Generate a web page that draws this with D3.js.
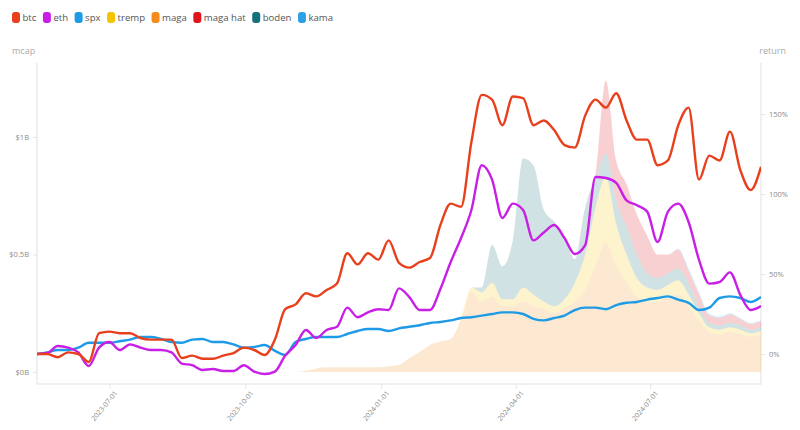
<!DOCTYPE html>
<html>
<head>
<meta charset="utf-8">
<script src="https://cdn.jsdelivr.net/npm/d3@7"></script>
<style>
  body { margin: 0; background: #fff; font-family: "Open Sans", "Noto Sans", sans-serif; }
  svg { display: block; }
</style>
</head>
<body>
<svg width="800" height="430"></svg>
<script>
// weekly samples
const dates = ['2023-05-13','2023-05-20','2023-05-27','2023-06-03','2023-06-10','2023-06-17','2023-06-24',
  '2023-07-01','2023-07-08','2023-07-15','2023-07-22','2023-07-29','2023-08-05','2023-08-12','2023-08-19',
  '2023-08-26','2023-09-02','2023-09-09','2023-09-16','2023-09-23','2023-09-30','2023-10-07','2023-10-14',
  '2023-10-21','2023-10-28','2023-11-04','2023-11-11','2023-11-18','2023-11-25','2023-12-02','2023-12-09',
  '2023-12-16','2023-12-23','2023-12-30','2024-01-06','2024-01-13','2024-01-20','2024-01-27','2024-02-03',
  '2024-02-10','2024-02-17','2024-02-24','2024-03-02','2024-03-09','2024-03-16','2024-03-23','2024-03-30',
  '2024-04-06','2024-04-13','2024-04-20','2024-04-27','2024-05-04','2024-05-11','2024-05-18','2024-05-25',
  '2024-06-01','2024-06-08','2024-06-15','2024-06-22','2024-06-29','2024-07-06','2024-07-13','2024-07-20',
  '2024-07-27','2024-08-03','2024-08-10','2024-08-17','2024-08-24','2024-08-31','2024-09-07','2024-09-14']

// return % (right axis)
const btc = [0,0,-2,1,0,-5,13,14,13,13,10,9,9,9,-2.5,-1,-3,-3,-1,0.6,4,2.5,-0.6,9,28,31,38,36,40,44,
  63,56,63,59,71,57,54,57.5,60,80.6,94,92,132.5,162,159,143,161,160,143,146,140,130.6,129,149,159,154,
  163,146,134,134,118,121,143,154,109,124,121,139,115,102.5,117]
const eth = [0,0.6,5,4,1,-7.5,4,7.5,2.5,6,4,2.5,2.5,1,-6,-7,-10,-9.4,-10.6,-10.6,-7,-11,-12.5,-11,-1,5.6,
  15,10,15,17,29,23,26,28,27.5,41,35.6,27.5,27.5,40.6,57.5,72.5,90,118,109,85,94,90,71,76,80.6,72.5,62.5,
  68,110.6,110,107,96,93,89,70,89,94,82.5,59,44,45,51,37,27.5,30]
const spx = [0,1,2.5,2.5,4,7,7,7,8,9,10.6,10.6,9.4,7.5,7,9,9.4,7.5,7.5,6,4,4.4,5.6,2,-0.6,7.5,9.4,10.6,
  10.6,10.6,12.5,14.4,15.6,15.6,14.4,16,17,18,19.4,20,21,22.5,23,24,25,26,26,25,22,21,22.5,24,27.5,29,
  29,28,30.6,32,32.5,34,35,36,34,32,27.5,29,35,36,35,32.5,35.6]

// mcap in $B (left axis), from 2023-11-11 (index 26) on; zero before
const maga = [0.005,0.015,0.02,0.02,0.02,0.02,0.02,0.02,0.025,0.03,0.06,0.085,0.115,0.13,0.14,0.22,0.34,
  0.3,0.32,0.28,0.28,0.3,0.28,0.27,0.25,0.27,0.3,0.35,0.45,0.55,0.45,0.38,0.32,0.3,0.3,0.32,0.33,0.28,
  0.22,0.17,0.16,0.17,0.16,0.15,0.16]
const tremp = [0,0,0,0,0,0,0,0,0,0,0,0,0,0,0,0.01,0.02,0.04,0.06,0.03,0.03,0.06,0.05,0.03,0.03,0.04,0.08,
  0.15,0.25,0.28,0.18,0.12,0.08,0.06,0.05,0.05,0.06,0.05,0.03,0.02,0.02,0.02,0.02,0.015,0.015]
const boden = [0,0,0,0,0,0,0,0,0,0,0,0,0,0,0,0,0,0.02,0.16,0.14,0.25,0.55,0.55,0.39,0.36,0.27,0.1,0.2,0.12,
  0.1,0.1,0.12,0.1,0.06,0.05,0.05,0.05,0.05,0.03,0.02,0.02,0.02,0.02,0.015,0.015]
const magahat = [0,0,0,0,0,0,0,0,0,0,0,0,0,0,0,0,0,0,0,0,0,0,0,0,0,0,0,0,0.02,0.31,0.17,0.18,0.17,0.16,
  0.1,0.08,0.08,0.05,0.05,0.03,0.03,0.035,0.025,0.025,0.025]
const kama = [0,0,0,0,0,0,0,0,0,0,0,0,0,0,0,0,0,0,0,0,0,0,0,0,0,0,0,0,0,0,0,0,0,0,0,0,0.005,0.01,0.01,
  0.008,0.006,0.005,0.005,0.004,0.004]
const memeStart = 26

const legend = [
  {name:'btc', color:'#e8401c'}, {name:'eth', color:'#c81ee6'}, {name:'spx', color:'#1e9be6'},
  {name:'tremp', color:'#f5c400'}, {name:'maga', color:'#f58a1f'}, {name:'maga hat', color:'#e0141c'},
  {name:'boden', color:'#14707a'}, {name:'kama', color:'#2ea0e8'}
]
const color = Object.fromEntries(legend.map(d => [d.name, d.color]))
const leftTicks = [0, 0.5, 1]
const rightTicks = [0, 50, 100, 150]
const xTicks = ['2023-07-01','2023-10-01','2024-01-01','2024-04-01','2024-07-01']

const parse = d3.timeParse('%Y-%m-%d')
const svg = d3.select('svg'),
    box = {left: 37, right: 761, top: 63, bottom: 384},
    x = d3.scaleTime().domain([parse(dates[0]), parse(dates[dates.length-1])]).range([box.left, box.right]),
    yL = d3.scaleLinear().domain([-0.051, 1.315]).range([box.bottom, box.top]),
    yR = d3.scaleLinear().domain([-18.75, 181.9]).range([box.bottom, box.top])

svg.append('defs').append('clipPath').attr('id', 'clip')
  .append('rect').attr('x', box.left).attr('y', box.top)
  .attr('width', box.right - box.left).attr('height', box.bottom - box.top)

// frame
svg.append('path')
  .attr('d', `M${box.left},${box.top}V${box.bottom}H${box.right}V${box.top}`)
  .attr('fill', 'none').attr('stroke', '#ececec').attr('stroke-width', 1.5)

// stacked meme coin mcaps
const pad = a => Array(memeStart).fill(0).concat(a)
const rows = dates.map((d, i) => ({
  date: parse(d), maga: pad(maga)[i], tremp: pad(tremp)[i], boden: pad(boden)[i],
  'maga hat': pad(magahat)[i], kama: pad(kama)[i]
}))
const stack = d3.stack().keys(['maga', 'tremp', 'boden', 'maga hat', 'kama'])(rows)
const area = d3.area()
  .x(d => x(d.data.date)).y0(d => yL(d[0])).y1(d => yL(d[1]))
  .curve(d3.curveMonotoneX)

const plot = svg.append('g').attr('clip-path', 'url(#clip)')
plot.selectAll('.area').data(stack).enter().append('path')
  .attr('class', 'area')
  .attr('d', area)
  .attr('fill', d => color[d.key])
  .attr('fill-opacity', 0.2)

// return lines
const line = d3.line().x((d, i) => x(parse(dates[i]))).y(d => yR(d)).curve(d3.curveMonotoneX)
;[['spx', spx], ['eth', eth], ['btc', btc]].forEach(([k, vals]) => {
  plot.append('path').datum(vals)
    .attr('d', line)
    .attr('fill', 'none')
    .attr('stroke', color[k])
    .attr('stroke-width', 2.4)
    .attr('stroke-linejoin', 'round')
})

// axes
const axisText = g => g.selectAll('text').attr('fill', '#8a8a8a').style('font-family', '"Open Sans", sans-serif')
svg.append('g')
  .attr('transform', `translate(${box.left},0)`)
  .call(d3.axisLeft(yL).tickValues(leftTicks).tickSize(4).tickPadding(4)
    .tickFormat(d => d === 0 ? '$0B' : '$' + d + 'B'))
  .call(g => g.select('.domain').remove())
  .call(g => g.selectAll('line').attr('stroke', '#e6e6e6'))
  .call(g => g.selectAll('text').attr('font-size', 7.5))
  .call(axisText)

svg.append('g')
  .attr('transform', `translate(${box.right},0)`)
  .call(d3.axisRight(yR).tickValues(rightTicks).tickSize(4).tickPadding(4).tickFormat(d => d + '%'))
  .call(g => g.select('.domain').remove())
  .call(g => g.selectAll('line').attr('stroke', '#e6e6e6'))
  .call(g => g.selectAll('text').attr('font-size', 7.5))
  .call(axisText)

svg.append('g')
  .attr('transform', `translate(0,${box.bottom})`)
  .call(d3.axisBottom(x).tickValues(xTicks.map(parse)).tickSize(5).tickFormat(d3.timeFormat('%Y-%m-%d')))
  .call(g => g.select('.domain').remove())
  .call(g => g.selectAll('line').attr('stroke', '#e6e6e6'))
  .call(g => g.selectAll('text')
    .attr('font-size', 7)
    .attr('text-anchor', 'end')
    .attr('dx', '-0.3em').attr('dy', '0.6em')
    .attr('transform', 'rotate(-50)'))
  .call(axisText)

svg.append('text').attr('x', 12).attr('y', 54).text('mcap')
  .attr('font-size', 9).attr('fill', '#aaa')
svg.append('text').attr('x', 786).attr('y', 54).text('return')
  .attr('font-size', 9).attr('fill', '#aaa').attr('text-anchor', 'end')

// legend
const lg = svg.append('g').attr('transform', 'translate(12,12)')
let lx = 0
legend.forEach(d => {
  const it = lg.append('g').attr('transform', `translate(${lx},0)`)
  it.append('rect').attr('width', 8).attr('height', 11).attr('rx', 3).attr('fill', d.color)
  const t = it.append('text').attr('x', 10.5).attr('y', 9.2).text(d.name)
    .attr('font-size', 9.6).attr('fill', '#555')
  lx += 10.5 + t.node().getComputedTextLength() + 6.5
})
</script>
</body>
</html>
